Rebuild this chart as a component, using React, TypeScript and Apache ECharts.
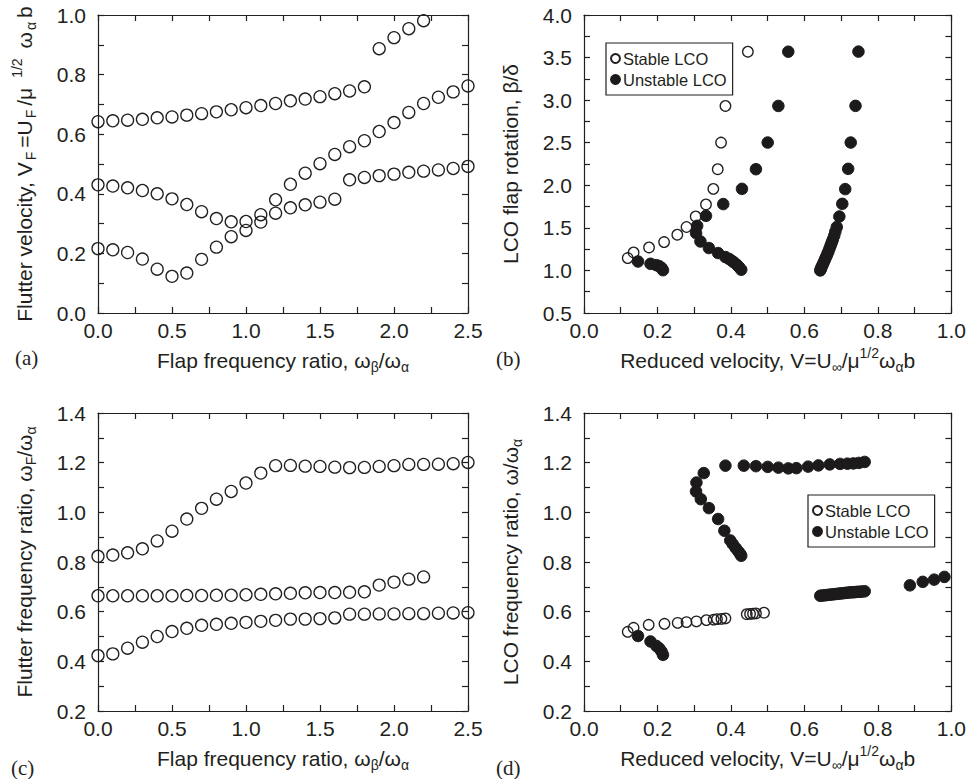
import React, { useEffect, useRef } from "react";
import * as echarts from "echarts";

// ---------- data ----------
const flapRatio = [0, 0.1, 0.2, 0.3, 0.4, 0.5, 0.6, 0.7, 0.8, 0.9, 1.0, 1.1, 1.2, 1.3, 1.4, 1.5, 1.6, 1.7, 1.8, 1.9, 2.0, 2.1, 2.2, 2.3, 2.4, 2.5];

// (a) flutter velocity
const aUpper = [0.642, 0.645, 0.647, 0.65, 0.655, 0.658, 0.664, 0.669, 0.675, 0.682, 0.689, 0.696, 0.703, 0.712, 0.718, 0.726, 0.736, 0.745, 0.759, 0.887, 0.924, 0.954, 0.981];
const aMiddle = [0.43, 0.426, 0.42, 0.411, 0.4, 0.383, 0.364, 0.34, 0.317, 0.306, 0.307, 0.33, 0.38, 0.432, 0.469, 0.501, 0.532, 0.558, 0.578, 0.609, 0.639, 0.673, 0.703, 0.724, 0.742, 0.762];
const aLower = [0.216, 0.212, 0.203, 0.181, 0.147, 0.123, 0.134, 0.18, 0.221, 0.256, 0.277, 0.305, 0.335, 0.353, 0.363, 0.372, 0.382, 0.447, 0.455, 0.461, 0.466, 0.472, 0.476, 0.48, 0.485, 0.492];

// (c) flutter frequency ratio
const cUpper = [0.823, 0.828, 0.837, 0.853, 0.885, 0.924, 0.973, 1.016, 1.053, 1.084, 1.118, 1.158, 1.188, 1.189, 1.186, 1.185, 1.182, 1.18, 1.181, 1.185, 1.188, 1.193, 1.193, 1.194, 1.196, 1.201];
const cMiddle = [0.664, 0.664, 0.664, 0.664, 0.664, 0.664, 0.665, 0.665, 0.666, 0.666, 0.668, 0.67, 0.672, 0.674, 0.676, 0.677, 0.677, 0.678, 0.68, 0.707, 0.719, 0.731, 0.74];
const cLower = [0.423, 0.43, 0.453, 0.477, 0.5, 0.52, 0.533, 0.545, 0.549, 0.553, 0.557, 0.561, 0.565, 0.57, 0.57, 0.572, 0.575, 0.59, 0.59, 0.591, 0.591, 0.592, 0.592, 0.594, 0.595, 0.596];

// (b) LCO flap rotation vs reduced velocity
const bStable = [[0.119, 1.145], [0.135, 1.211], [0.177, 1.27], [0.218, 1.333], [0.254, 1.42], [0.279, 1.51], [0.304, 1.634], [0.332, 1.775], [0.352, 1.958], [0.364, 2.189], [0.373, 2.502], [0.385, 2.932], [0.446, 3.569]];
const bUnstable1 = [[0.147, 1.105], [0.181, 1.078], [0.197, 1.062], [0.205, 1.05], [0.211, 1.03], [0.215, 1.003]];
const bUnstable2 = [[0.305, 1.438], [0.308, 1.524], [0.317, 1.34], [0.34, 1.263], [0.365, 1.204], [0.385, 1.157], [0.395, 1.135], [0.402, 1.114], [0.408, 1.095], [0.416, 1.067], [0.422, 1.04], [0.428, 1.008], [0.332, 1.641], [0.379, 1.779], [0.43, 1.958], [0.468, 2.189], [0.5, 2.502], [0.529, 2.932], [0.556, 3.569]];
const bUnstable3 = [[0.643, 1.0], [0.645, 1.02], [0.647, 1.045], [0.65, 1.07], [0.653, 1.1], [0.656, 1.13], [0.659, 1.16], [0.662, 1.19], [0.665, 1.22], [0.668, 1.255], [0.671, 1.29], [0.674, 1.325], [0.677, 1.36], [0.681, 1.407], [0.684, 1.455], [0.688, 1.509], [0.695, 1.633], [0.703, 1.782], [0.711, 1.955], [0.719, 2.193], [0.726, 2.502], [0.739, 2.933], [0.747, 3.57]];

// (d) LCO frequency ratio vs reduced velocity
const dStable = [[0.119, 0.519], [0.135, 0.535], [0.176, 0.547], [0.219, 0.551], [0.255, 0.555], [0.279, 0.558], [0.306, 0.561], [0.333, 0.566], [0.353, 0.568], [0.362, 0.57], [0.374, 0.571], [0.385, 0.573], [0.443, 0.59], [0.452, 0.591], [0.46, 0.592], [0.468, 0.593], [0.49, 0.596]];
const dUnstable1 = [[0.147, 0.502], [0.181, 0.48], [0.197, 0.462], [0.205, 0.452], [0.211, 0.44], [0.215, 0.426]];
const dUnstable2 = [[0.305, 1.084], [0.306, 1.12], [0.326, 1.158], [0.318, 1.053], [0.34, 1.017], [0.365, 0.973], [0.382, 0.926], [0.398, 0.887], [0.405, 0.872], [0.413, 0.856], [0.42, 0.843], [0.425, 0.833], [0.428, 0.825]];
const dUnstableTop = [[0.385, 1.188], [0.435, 1.188], [0.468, 1.186], [0.5, 1.183], [0.529, 1.18], [0.556, 1.177], [0.578, 1.178], [0.61, 1.184], [0.638, 1.189], [0.669, 1.193], [0.697, 1.195], [0.717, 1.196], [0.733, 1.197], [0.748, 1.199], [0.764, 1.203]];
const dUnstable3 = [[0.643, 0.664], [0.649, 0.665], [0.655, 0.666], [0.661, 0.667], [0.667, 0.668], [0.673, 0.669], [0.679, 0.67], [0.685, 0.671], [0.691, 0.672], [0.697, 0.673], [0.703, 0.674], [0.709, 0.675], [0.715, 0.676], [0.721, 0.677], [0.727, 0.678], [0.733, 0.678], [0.739, 0.679], [0.745, 0.68], [0.751, 0.68], [0.757, 0.681], [0.764, 0.682]];
const dUnstable4 = [[0.887, 0.706], [0.922, 0.72], [0.953, 0.729], [0.981, 0.74]];

const legendNames = ["Stable LCO", "Unstable LCO"];

// ---------- styles ----------
const TXT = "#231f20";
const FONT = "Liberation Sans, Arial, Helvetica, sans-serif";
const SERIF = "Liberation Serif, Times New Roman, serif";

const nameRich = {
  n: { fontSize: 21, fontFamily: FONT, color: TXT, lineHeight: 28 },
  s: { fontSize: 14, fontFamily: FONT, color: TXT, lineHeight: 14, verticalAlign: "bottom" },
  p: { fontSize: 14, fontFamily: FONT, color: TXT, lineHeight: 14, verticalAlign: "top" },
  sw: { fontSize: 14, fontFamily: FONT, color: TXT, lineHeight: 14, verticalAlign: "bottom", padding: [0, 4, 0, 2] },
  pw: { fontSize: 14, fontFamily: FONT, color: TXT, lineHeight: 14, verticalAlign: "top", padding: [0, 10, 0, 10] },
};

const aXName = "{n|Flap frequency ratio, ω}{s|β}{n|/ω}{s|α}";
const aYName = "{n|Flutter velocity, V}{sw|F}{n|=U}{sw|F}{n|/μ}{pw|1/2}{n|ω}{sw|α}{n|b}";
const bXName = "{n|Reduced velocity, V=U}{s|∞}{n|/μ}{p|1/2}{n|ω}{s|α}{n|b}";
const bYName = "{n|LCO flap rotation, β/δ}";
const cYName = "{n|Flutter frequency ratio, ω}{s|F}{n|/ω}{s|α}";
const dYName = "{n|LCO frequency ratio, ω/ω}{s|α}";

const grids = [
  { left: 98, top: 15, width: 370, height: 298 },
  { left: 584, top: 15, width: 371, height: 298 },
  { left: 98, top: 413, width: 370, height: 298 },
  { left: 584, top: 413, width: 371, height: 298 },
];

const lineStyle = { color: TXT, width: 1.2 };

function axis(dim: "x" | "y", grid: number, min: number, max: number, interval: number, mirror: boolean, name?: string, nameGap?: number) {
  const a: any = {
    type: "value",
    gridIndex: grid,
    min,
    max,
    interval,
    position: dim === "x" ? (mirror ? "top" : "bottom") : mirror ? "right" : "left",
    axisLine: { show: true, onZero: false, lineStyle },
    axisTick: { show: true, inside: true, length: 6, lineStyle },
    minorTick: { show: true, splitNumber: 2, length: 6, lineStyle },
    splitLine: { show: false },
    minorSplitLine: { show: false },
    axisLabel: {
      show: !mirror,
      fontSize: 21,
      fontFamily: FONT,
      color: TXT,
      margin: dim === "x" ? 7 : 12,
      formatter: (v: number) => v.toFixed(1),
    },
  };
  if (name && !mirror) {
    a.name = name;
    a.nameLocation = "middle";
    a.nameGap = nameGap;
    a.nameRotate = dim === "y" ? 90 : 0;
    a.nameTextStyle = { rich: nameRich };
  }
  return a;
}

const openStyle = { color: "rgba(255,255,255,0)", borderColor: TXT, borderWidth: 1.3, opacity: 1 };
const filledStyle = { color: "#1c1a1b", borderColor: "#1c1a1b", borderWidth: 1, opacity: 1 };

function pairs(xs: number[], ys: number[]) {
  return ys.map((y, i) => [xs[i], y]);
}

function sc(name: string, xi: number, yi: number, data: any[], filled: boolean, size: number) {
  return {
    type: "scatter",
    name,
    xAxisIndex: xi,
    yAxisIndex: yi,
    data,
    symbol: "circle",
    symbolSize: size,
    itemStyle: filled ? filledStyle : openStyle,
    emphasis: { disabled: true },
    silent: true,
  };
}

function legend(left: number, top: number) {
  return {
    orient: "vertical",
    left,
    top,
    data: legendNames,
    icon: "circle",
    itemWidth: 9,
    itemHeight: 9,
    itemGap: 4,
    padding: [7, 6, 7, 4],
    borderColor: TXT,
    borderWidth: 1.2,
    backgroundColor: "#fff",
    selectedMode: false,
    textStyle: { fontSize: 16.5, fontFamily: FONT, color: TXT, padding: [0, 0, 0, -2] },
  };
}

export default function App() {
  const ref = useRef<HTMLDivElement>(null);
  useEffect(() => {
    if (!ref.current) return;
    const chart = echarts.init(ref.current, undefined, { renderer: "svg" });
    const xAxis = [
      axis("x", 0, 0, 2.5, 0.5, false, aXName, 33),
      axis("x", 0, 0, 2.5, 0.5, true),
      axis("x", 1, 0, 1.0, 0.2, false, bXName, 33),
      axis("x", 1, 0, 1.0, 0.2, true),
      axis("x", 2, 0, 2.5, 0.5, false, aXName, 33),
      axis("x", 2, 0, 2.5, 0.5, true),
      axis("x", 3, 0, 1.0, 0.2, false, bXName, 33),
      axis("x", 3, 0, 1.0, 0.2, true),
    ];
    const yAxis = [
      axis("y", 0, 0, 1.0, 0.2, false, aYName, 60),
      axis("y", 0, 0, 1.0, 0.2, true),
      axis("y", 1, 0.5, 4.0, 0.5, false, bYName, 60),
      axis("y", 1, 0.5, 4.0, 0.5, true),
      axis("y", 2, 0.2, 1.4, 0.2, false, cYName, 60),
      axis("y", 2, 0.2, 1.4, 0.2, true),
      axis("y", 3, 0.2, 1.4, 0.2, false, dYName, 60),
      axis("y", 3, 0.2, 1.4, 0.2, true),
    ];
    const S = 12;
    const s2 = 10.5;
    const f2 = 11.5;
    const series = [
      sc("a-upper", 0, 0, pairs(flapRatio, aUpper), false, S),
      sc("a-middle", 0, 0, pairs(flapRatio, aMiddle), false, S),
      sc("a-lower", 0, 0, pairs(flapRatio, aLower), false, S),
      sc("Stable LCO", 2, 2, bStable, false, s2),
      sc("Unstable LCO", 2, 2, bUnstable1, true, f2),
      sc("Unstable LCO", 2, 2, bUnstable2, true, f2),
      sc("Unstable LCO", 2, 2, bUnstable3, true, f2),
      sc("c-upper", 4, 4, pairs(flapRatio, cUpper), false, S),
      sc("c-middle", 4, 4, pairs(flapRatio, cMiddle), false, S),
      sc("c-lower", 4, 4, pairs(flapRatio, cLower), false, S),
      sc("Stable LCO", 6, 6, dStable, false, s2),
      sc("Unstable LCO", 6, 6, dUnstable1, true, f2),
      sc("Unstable LCO", 6, 6, dUnstable2, true, f2),
      sc("Unstable LCO", 6, 6, dUnstableTop, true, f2),
      sc("Unstable LCO", 6, 6, dUnstable3, true, f2),
      sc("Unstable LCO", 6, 6, dUnstable4, true, f2),
    ];
    const panelLabel = (t: string, x: number, y: number) => ({
      type: "text",
      x,
      y,
      silent: true,
      style: { text: t, fontSize: 21, fontFamily: SERIF, fill: TXT, verticalAlign: "middle", align: "left" },
    });
    chart.setOption({
      animation: false,
      backgroundColor: "#fff",
      grid: grids.map((g) => ({ ...g, containLabel: false })),
      xAxis,
      yAxis,
      legend: [legend(606, 43), legend(808, 495)],
      series,
      graphic: [
        panelLabel("(a)", 15, 358),
        panelLabel("(b)", 496, 359),
        panelLabel("(c)", 11, 768),
        panelLabel("(d)", 496, 768),
      ],
    });
    return () => chart.dispose();
  }, []);
  return <div ref={ref} style={{ position: "absolute", left: 0, top: 0, width: 969, height: 779 }} />;
}
